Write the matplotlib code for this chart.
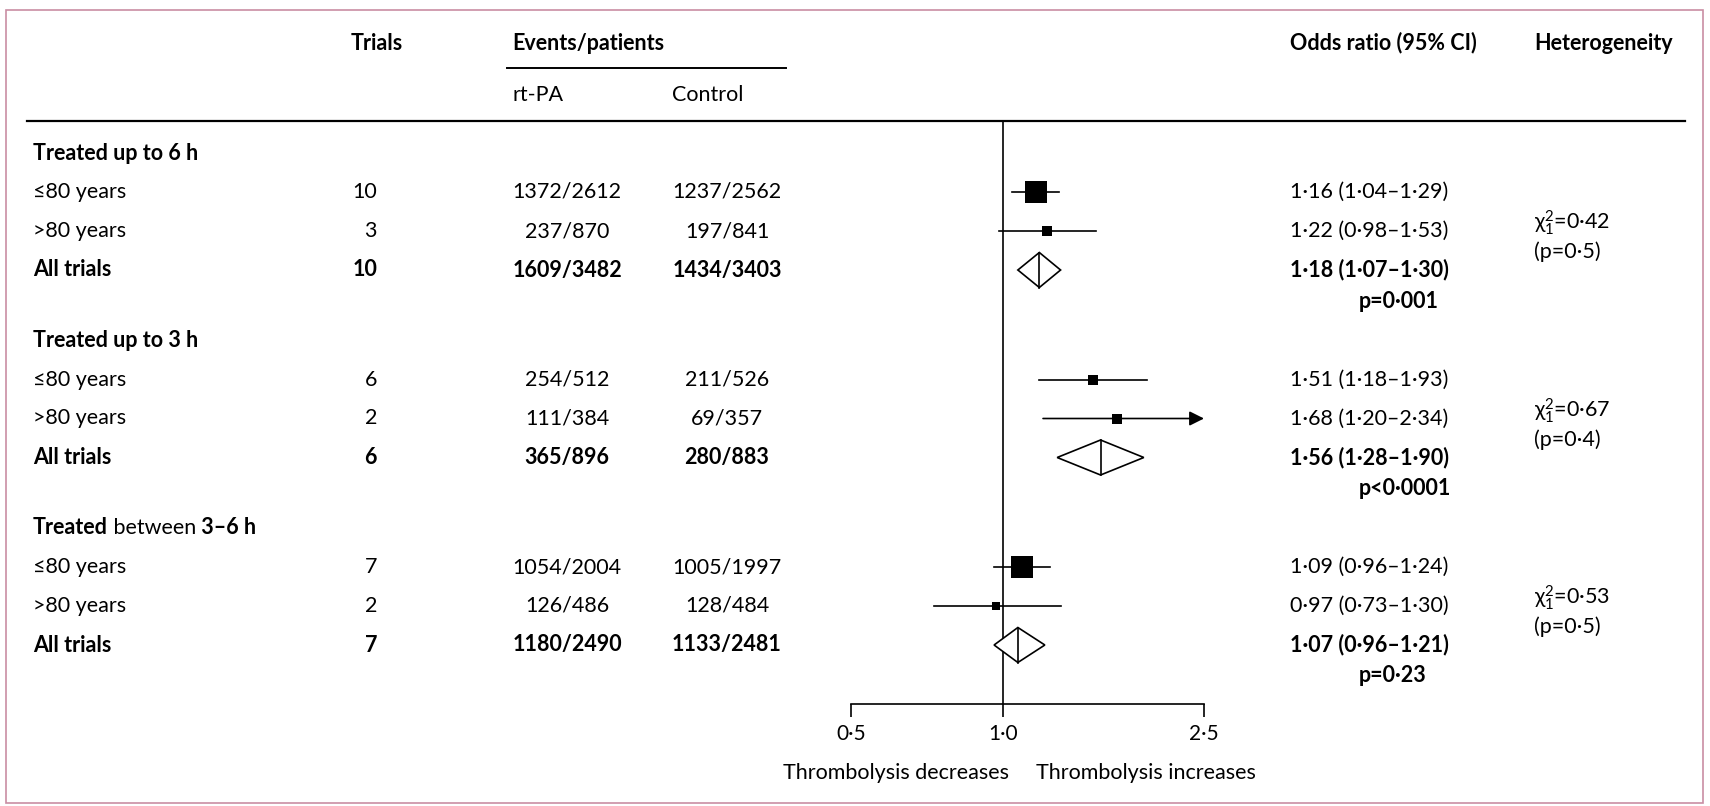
import numpy as np
import matplotlib
matplotlib.use('Agg')
import matplotlib.pyplot as plt
from matplotlib.patches import Rectangle
from matplotlib.ticker import NullLocator

plt.rcParams['font.family'] = ['Lato', 'DejaVu Sans']
plt.rcParams['mathtext.fontset'] = 'custom'
plt.rcParams['mathtext.rm'] = 'Lato'
plt.rcParams['mathtext.it'] = 'Lato:italic'

# ---- data ----
group_titles = [[('Treated up to 6 h', 'bold')],
                [('Treated up to 3 h', 'bold')],
                [('Treated', 'bold'), (' between', 'normal'), (' 3–6 h', 'bold')]]
row_labels = ['≤80 years', '>80 years', 'All trials']
trials = [[10, 3, 10], [6, 2, 6], [7, 2, 7]]
ev_rtpa = [[1372, 237, 1609], [254, 111, 365], [1054, 126, 1180]]
n_rtpa = [[2612, 870, 3482], [512, 384, 896], [2004, 486, 2490]]
ev_ctrl = [[1237, 197, 1434], [211, 69, 280], [1005, 128, 1133]]
n_ctrl = [[2562, 841, 3403], [526, 357, 883], [1997, 484, 2481]]
or_est = [[1.16, 1.22, 1.18], [1.51, 1.68, 1.56], [1.09, 0.97, 1.07]]
or_lo = [[1.04, 0.98, 1.07], [1.18, 1.20, 1.28], [0.96, 0.73, 0.96]]
or_hi = [[1.29, 1.53, 1.30], [1.93, 2.34, 1.90], [1.24, 1.30, 1.21]]
p_overall = ['p=0·001', 'p<0·0001', 'p=0·23']
chi2 = ['0·42', '0·67', '0·53']
p_het = ['0·5', '0·4', '0·5']
x_ticks = [0.5, 1.0, 2.5]
x_ticklabels = ['0·5', '1·0', '2·5']

# ---- styling / layout (pixel units) ----
W, H = 1710, 806
FS = 15.5
box_px = [[23, 11], [10, 10], [22, 9]]   # square side for the two subgroups
arrow_from = 2.3                          # CIs beyond this get an arrow to the axis end
top_rule, axis_y = 121, 704
g_first, g_step, r_step = 153, 187.5, 39

def dot(s):
    return s.replace('.', '·')

fig = plt.figure(figsize=(W / 100, H / 100), dpi=100)
bg = fig.add_axes([0, 0, 1, 1])
bg.set_xlim(0, W)
bg.set_ylim(H, 0)
bg.axis('off')

fa = fig.add_axes([851 / W, 1 - axis_y / H, (1204 - 851) / W, (axis_y - top_rule) / H])
fa.patch.set_visible(False)
fa.set_xscale('log')
fa.set_xlim(0.5, 2.5)
fa.set_ylim(axis_y, top_rule)
for s in ['top', 'left', 'right']:
    fa.spines[s].set_visible(False)
fa.spines['bottom'].set_linewidth(1.2)
fa.set_xticks(x_ticks)
fa.set_xticklabels(x_ticklabels, fontsize=FS - 0.5)
fa.xaxis.set_minor_locator(NullLocator())
fa.tick_params(axis='x', direction='out', length=9.5, width=1.2, pad=5)
fa.set_yticks([])
fa.axvline(1.0, color='k', lw=1.2)

# frame and rules
bg.add_patch(Rectangle((6, 10), 1697, 793, fill=False, edgecolor='#c98da3', lw=1.2))
bg.plot([27, 1685], [top_rule, top_rule], color='k', lw=1.6)
bg.plot([507, 786], [68, 68], color='k', lw=1.4)

# headers
hkw = dict(fontsize=FS, fontweight='bold', va='center', ha='left')
bg.text(351, 43, 'Trials', **hkw)
bg.text(512, 43, 'Events/patients', **hkw)
bg.text(1290, 43, 'Odds ratio (95% CI)', **hkw)
bg.text(1534, 43, 'Heterogeneity', **hkw)
bg.text(512, 95, 'rt-PA', fontsize=FS, va='center', ha='left')
bg.text(672, 95, 'Control', fontsize=FS, va='center', ha='left')

for g in range(3):
    gy = g_first + g * g_step
    # group title, possibly mixed weight
    prev = None
    for txt, wt in group_titles[g]:
        if prev is None:
            prev = bg.text(33, gy, txt, fontsize=FS, fontweight=wt, va='center', ha='left')
        else:
            prev = bg.annotate(txt, xy=(1, 0.5), xycoords=prev, fontsize=FS,
                               fontweight=wt, va='center', ha='left')
    for r in range(3):
        y = gy + (r + 1) * r_step
        wt = 'bold' if r == 2 else 'normal'
        kw = dict(fontsize=FS, fontweight=wt, va='center')
        bg.text(33, y, row_labels[r], ha='left', **kw)
        bg.text(377, y, str(trials[g][r]), ha='right', **kw)
        bg.text(567, y, f'{ev_rtpa[g][r]}/{n_rtpa[g][r]}', ha='center', **kw)
        bg.text(727, y, f'{ev_ctrl[g][r]}/{n_ctrl[g][r]}', ha='center', **kw)
        est, lo, hi = or_est[g][r], or_lo[g][r], or_hi[g][r]
        bg.text(1290, y, dot(f'{est:.2f} ({lo:.2f}–{hi:.2f})'), ha='left', **kw)

        if r < 2:
            if hi > arrow_from:
                fa.annotate('', xy=(2.5, y), xytext=(lo, y),
                            arrowprops=dict(arrowstyle='-|>', color='k', lw=1.2,
                                            mutation_scale=22, shrinkA=0, shrinkB=0))
            else:
                fa.plot([lo, hi], [y, y], color='k', lw=1.2, clip_on=False)
            fa.plot(est, y, marker='s', color='k', ms=box_px[g][r] / 1.389,
                    mew=0, clip_on=False)
        else:
            h = 17.5
            fa.fill([lo, est, hi, est], [y, y - h, y, y + h], facecolor='white',
                    edgecolor='k', lw=1.2, clip_on=False, zorder=3)
            fa.plot([est, est], [y - h, y + h], color='k', lw=1.2, zorder=4)

    bg.text(1359, gy + 148, p_overall[g], fontsize=FS, fontweight='bold',
            va='center', ha='left')
    cy = gy + 2 * r_step - 8
    bg.text(1534, cy, f'χ$_1^2$={chi2[g]}', fontsize=FS, va='center', ha='left')
    bg.text(1534, cy + 29, f'(p={p_het[g]})', fontsize=FS, va='center', ha='left')

bg.text(1009, 773, 'Thrombolysis decreases', fontsize=FS, va='center', ha='right')
bg.text(1036, 773, 'Thrombolysis increases', fontsize=FS, va='center', ha='left')

fig.savefig('out.png', dpi=100)
